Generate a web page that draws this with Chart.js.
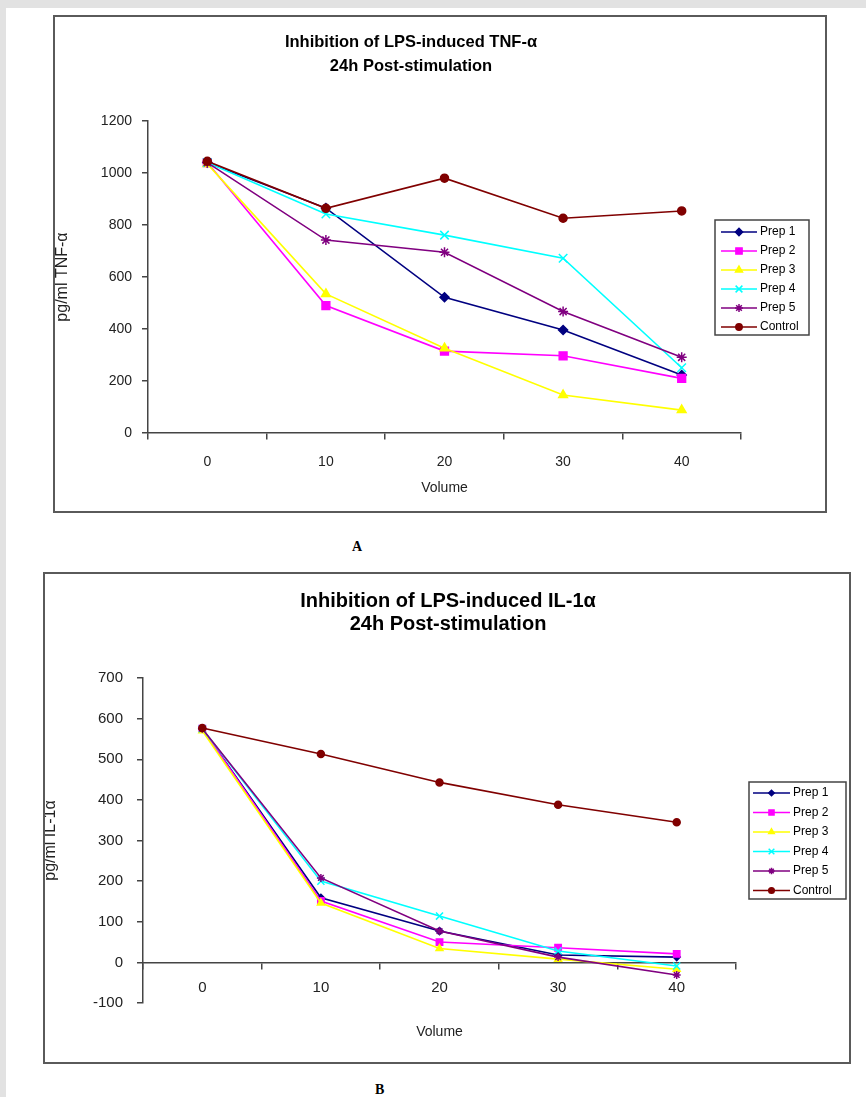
<!DOCTYPE html>
<html>
<head>
<meta charset="utf-8">
<title>Inhibition of LPS-induced TNF-α and IL-1α</title>
<script src="https://cdn.jsdelivr.net/npm/chart.js@4.4.1/dist/chart.umd.min.js"></script>
<style>
    body { margin: 0; background: #e2e2e2; font-family: "Liberation Sans", Arial, sans-serif; }
    #page { position: absolute; left: 6px; top: 8px; width: 860px; height: 1089px; background: #fff; }
    .box { position: absolute; border: 2px solid #5a5a5a; box-sizing: border-box; background: #fff; }
    .box canvas { position: absolute; left: 0; top: 0; }
    .caption { position: absolute; font-family: "Liberation Serif", "Times New Roman", serif; font-weight: bold; font-size: 14px; }
</style>
</head>
<body>
<div id="page"></div>

<div class="box" style="left:53px;top:15px;width:774px;height:498px">
    <canvas id="chart-a" width="770" height="494"></canvas>
</div>
<div class="caption" style="left:352px;top:539px">A</div>

<div class="box" style="left:43px;top:572px;width:808px;height:492px">
    <canvas id="chart-b" width="804" height="488"></canvas>
</div>
<div class="caption" style="left:375px;top:1082px">B</div>

<script>
const volumes = ['0', '10', '20', '30', '40'];
const seriesNames = ['Prep 1', 'Prep 2', 'Prep 3', 'Prep 4', 'Prep 5', 'Control'];

// TNF-alpha, pg/ml
const tnfPrep1 = [1040, 865, 522, 396, 223];
const tnfPrep2 = [1040, 490, 315, 297, 210];
const tnfPrep3 = [1035, 535, 326, 146, 88];
const tnfPrep4 = [1040, 842, 761, 672, 251];
const tnfPrep5 = [1040, 742, 695, 467, 291];
const tnfControl = [1045, 864, 980, 826, 854];

// IL-1alpha, pg/ml
const ilPrep1 = [575, 159, 77, 18, 13];
const ilPrep2 = [575, 151, 50, 36, 21];
const ilPrep3 = [570, 146, 34, 8, -17];
const ilPrep4 = [575, 200, 114, 28, -9];
const ilPrep5 = [575, 208, 77, 13, -31];
const ilControl = [577, 513, 443, 388, 345];

const seriesColors = ['#000080', '#ff00ff', '#ffff00', '#00ffff', '#800080', '#800000'];
const pointStyles = ['rectRot', 'rect', 'triangle', 'crossRot', 'star', 'circle'];

// draws the Excel-style title and boxed legend
const panelDecor = {
    id: 'panelDecor',
    afterDraw(chart, args, opts) {
        const ctx = chart.ctx;
        ctx.save();
        ctx.fillStyle = '#000';
        ctx.textAlign = 'center';
        ctx.textBaseline = 'middle';
        ctx.font = opts.titleFont;
        opts.title.forEach((line, i) => ctx.fillText(line, opts.titleX, opts.titleY[i]));

        const lg = opts.legend;
        ctx.strokeStyle = '#444';
        ctx.lineWidth = 1.5;
        ctx.strokeRect(lg.x, lg.y, lg.w, lg.h);
        ctx.font = lg.font;
        ctx.textAlign = 'left';

        chart.data.datasets.forEach((ds, i) => {
            const y = lg.rowY + i * lg.rowStep;
            ctx.strokeStyle = ds.borderColor;
            ctx.fillStyle = ds.backgroundColor;
            ctx.lineWidth = ds.borderWidth;
            ctx.beginPath();
            ctx.moveTo(lg.lineX0, y);
            ctx.lineTo(lg.lineX1, y);
            ctx.stroke();

            const cx = (lg.lineX0 + lg.lineX1) / 2;
            ctx.lineWidth = ds.pointBorderWidth;
            if (Chart.helpers && Chart.helpers.drawPoint) {
                Chart.helpers.drawPoint(ctx, {
                    pointStyle: ds.pointStyle,
                    radius: ds.pointRadius * lg.pointScale,
                    rotation: 0,
                    borderWidth: ds.pointBorderWidth
                }, cx, y);
            } else {
                ctx.beginPath();
                ctx.arc(cx, y, 3, 0, Math.PI * 2);
                ctx.fill();
            }

            ctx.fillStyle = '#000';
            ctx.fillText(ds.label, lg.textX, y);
        });
        ctx.restore();
    }
};

function buildDatasets(values, radii) {
    return values.map((data, i) => ({
        label: seriesNames[i],
        data: data,
        borderColor: seriesColors[i],
        backgroundColor: seriesColors[i],
        pointBackgroundColor: seriesColors[i],
        pointBorderColor: seriesColors[i],
        borderWidth: 1.6,
        pointStyle: pointStyles[i],
        pointRadius: radii[i],
        pointHoverRadius: radii[i],
        pointBorderWidth: 1.5,
        tension: 0,
        fill: false,
        order: values.length - i
    }));
}

function buildChart(id, cfg) {
    const ctx = document.getElementById(id).getContext('2d');
    const tickFont = { family: 'Liberation Sans', size: cfg.tickSize };

    return new Chart(ctx, {
        type: 'line',
        data: {
            labels: volumes,
            datasets: buildDatasets(cfg.values, cfg.radii)
        },
        plugins: [panelDecor],
        options: {
            responsive: false,
            animation: false,
            events: [],
            layout: {
                padding: { left: 0, top: cfg.areaTop, right: cfg.rightPad, bottom: 0 }
            },
            plugins: {
                legend: { display: false },
                title: { display: false },
                tooltip: { enabled: false },
                panelDecor: cfg.decor
            },
            scales: {
                x: {
                    type: 'category',
                    position: { y: 0 },
                    offset: true,
                    grid: {
                        offset: true,
                        drawOnChartArea: false,
                        drawTicks: true,
                        tickLength: 6,
                        color: '#444',
                        lineWidth: 1.5
                    },
                    border: { display: true, color: '#444', width: 1.5 },
                    ticks: { font: tickFont, color: '#222', padding: cfg.xTickPad, maxRotation: 0 }
                },
                x2: {
                    type: 'category',
                    position: 'bottom',
                    offset: true,
                    grid: { display: false },
                    border: { display: false },
                    ticks: { display: false },
                    title: {
                        display: true,
                        text: 'Volume',
                        font: { family: 'Liberation Sans', size: 14 },
                        color: '#222',
                        padding: { top: 0, bottom: cfg.xTitlePad }
                    },
                    afterFit: scale => { scale.height = cfg.xHeight; }
                },
                y: {
                    type: 'linear',
                    position: 'left',
                    min: cfg.yMin,
                    max: cfg.yMax,
                    ticks: {
                        stepSize: cfg.yStep,
                        font: tickFont,
                        color: '#222',
                        padding: cfg.yTickPad,
                        callback: value => String(value)
                    },
                    grid: {
                        drawOnChartArea: false,
                        drawTicks: true,
                        tickLength: 6,
                        color: '#444',
                        lineWidth: 1.5
                    },
                    border: { display: true, color: '#444', width: 1.5 },
                    title: {
                        display: true,
                        text: cfg.yTitle,
                        font: { family: 'Liberation Sans', size: cfg.yTitleSize, lineHeight: cfg.yTitleLine },
                        color: '#222',
                        padding: 0
                    },
                    afterFit: scale => { scale.width = cfg.yWidth; }
                }
            }
        }
    });
}

buildChart('chart-a', {
    values: [tnfPrep1, tnfPrep2, tnfPrep3, tnfPrep4, tnfPrep5, tnfControl],
    radii: [4.5, 5.5, 5, 6, 5, 4],
    yMin: 0,
    yMax: 1200,
    yStep: 200,
    yTitle: 'pg/ml TNF-α',
    yTitleSize: 16,
    yTitleLine: 0.9,
    tickSize: 14,
    areaTop: 104,
    rightPad: 84,
    yWidth: 93,
    xHeight: 78,
    xTickPad: 15,
    yTickPad: 10,
    xTitlePad: 14,
    decor: {
        title: ['Inhibition of LPS-induced TNF-α', '24h Post-stimulation'],
        titleX: 356,
        titleY: [25, 49],
        titleFont: 'bold 16.5px "Liberation Sans"',
        legend: {
            x: 660, y: 203, w: 94, h: 115,
            rowY: 215, rowStep: 19,
            lineX0: 666, lineX1: 702, textX: 705,
            pointScale: 0.8,
            font: '12px "Liberation Sans"'
        }
    }
});

buildChart('chart-b', {
    values: [ilPrep1, ilPrep2, ilPrep3, ilPrep4, ilPrep5, ilControl],
    radii: [3.5, 4.5, 4, 5, 4, 3.5],
    yMin: -100,
    yMax: 700,
    yStep: 100,
    yTitle: 'pg/ml IL-1α',
    yTitleSize: 16,
    yTitleLine: 0.65,
    tickSize: 15,
    areaTop: 104,
    rightPad: 113,
    yWidth: 98,
    xHeight: 59,
    xTickPad: 10,
    yTickPad: 14,
    xTitlePad: 21,
    decor: {
        title: ['Inhibition of LPS-induced IL-1α', '24h Post-stimulation'],
        titleX: 403,
        titleY: [27, 50],
        titleFont: 'bold 20px "Liberation Sans"',
        legend: {
            x: 704, y: 208, w: 97, h: 117,
            rowY: 219, rowStep: 19.5,
            lineX0: 708, lineX1: 745, textX: 748,
            pointScale: 0.8,
            font: '12px "Liberation Sans"'
        }
    }
});
</script>
</body>
</html>
